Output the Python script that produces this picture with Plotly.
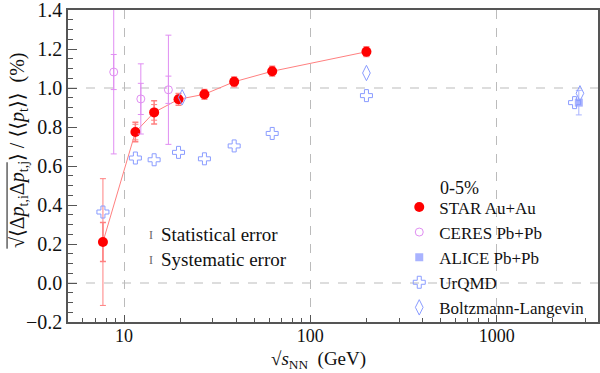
import plotly.graph_objects as go

# STAR Au+Au
star_x = [7.7, 11.5, 14.5, 19.6, 27, 39, 62.4, 200]
star_y = [0.21, 0.774, 0.875, 0.942, 0.968, 1.032, 1.086, 1.186]
star_stat = [0.325, 0.04, 0.04, 0.02, 0.02, 0.02, 0.02, 0.02]
star_sys = [0.10, 0.05, 0.06, 0.03, 0.025, 0.025, 0.025, 0.025]

# CERES Pb+Pb
ceres_x = [8.8, 12.3, 17.3]
ceres_y = [1.082, 0.944, 0.991]
ceres_stat = [0.42, 0.18, 0.28]
ceres_sys = [0.09, 0.08, 0.07]

# ALICE Pb+Pb
alice_x = [2760]
alice_y = [0.925]
alice_err = [0.063]

# UrQMD
urqmd_x = [7.7, 11.5, 14.5, 19.6, 27, 39, 62.4, 200, 2620]
urqmd_y = [0.364, 0.641, 0.632, 0.670, 0.637, 0.703, 0.767, 0.961, 0.925]

# Boltzmann-Langevin
bl_x = [20.5, 200, 2800]
bl_y = [0.952, 1.077, 0.973]

FONT = "Liberation Serif, Tinos, Times New Roman, DejaVu Serif, serif"
RED = "#ff0000"
RED_L = "#ff8080"
VIO = "#e08ef2"
BLUE = "#8a9cff"
BLUE_F = "#a9b3ff"

fig = go.Figure()

# STAR connecting line and systematic errors (no legend)
fig.add_trace(go.Scatter(x=star_x, y=star_y, mode="lines", showlegend=False,
                         line=dict(color=RED_L, width=1)))
fig.add_trace(go.Scatter(x=star_x, y=star_y, mode="markers", showlegend=False,
                         marker=dict(size=1, color="rgba(0,0,0,0)"),
                         error_y=dict(type="data", array=star_sys, color=RED_L, thickness=1.5, width=3)))
fig.add_trace(go.Scatter(x=ceres_x, y=ceres_y, mode="markers", showlegend=False,
                         marker=dict(size=1, color="rgba(0,0,0,0)"),
                         error_y=dict(type="data", array=ceres_sys, color=VIO, thickness=1, width=3)))

fig.add_trace(go.Scatter(x=star_x, y=star_y, mode="markers", name="STAR Au+Au",
                         marker=dict(symbol="circle", size=10, color=RED),
                         error_y=dict(type="data", array=star_stat, color=RED_L, thickness=1, width=3)))
fig.add_trace(go.Scatter(x=ceres_x, y=ceres_y, mode="markers", name="CERES Pb+Pb",
                         marker=dict(symbol="circle-open", size=8, color=VIO, line=dict(width=1)),
                         error_y=dict(type="data", array=ceres_stat, color=VIO, thickness=1, width=3)))
fig.add_trace(go.Scatter(x=alice_x, y=alice_y, mode="markers", name="ALICE Pb+Pb",
                         marker=dict(symbol="square", size=8, color=BLUE_F),
                         error_y=dict(type="data", array=alice_err, color=BLUE_F, thickness=1, width=3)))
fig.add_trace(go.Scatter(x=urqmd_x, y=urqmd_y, mode="markers", name="UrQMD",
                         marker=dict(symbol="cross-open", size=10, color=BLUE, line=dict(width=1))))
fig.add_trace(go.Scatter(x=bl_x, y=bl_y, mode="markers", name="Boltzmann-Langevin",
                         marker=dict(symbol="diamond-tall-open", size=11, color=BLUE, line=dict(width=1))))

# dashed reference grid lines at 0 and 1
for yv in (0.0, 1.0):
    fig.add_shape(type="line", xref="paper", yref="y", x0=0, x1=1, y0=yv, y1=yv,
                  line=dict(color="#bbbbbb", width=1, dash="dash"), layer="below")

TXT = "#111"
fig.add_annotation(xref="paper", yref="paper", x=0.6985, y=0.4295, xanchor="left", yanchor="middle",
                   text="0-5%", showarrow=False, font=dict(family=FONT, size=18, color=TXT))
fig.add_annotation(xref="paper", yref="paper", x=0.1718, y=0.279, xanchor="left", yanchor="middle",
                   text="Statistical error", showarrow=False, font=dict(family=FONT, size=19, color=TXT))
fig.add_annotation(xref="paper", yref="paper", x=0.1718, y=0.199, xanchor="left", yanchor="middle",
                   text="Systematic error", showarrow=False, font=dict(family=FONT, size=19, color=TXT))
fig.add_annotation(xref="paper", yref="paper", x=0.156, y=0.279, xanchor="center", yanchor="middle",
                   text="I", showarrow=False, font=dict(family=FONT, size=12, color="#666"))
fig.add_annotation(xref="paper", yref="paper", x=0.156, y=0.199, xanchor="center", yanchor="middle",
                   text="I", showarrow=False, font=dict(family=FONT, size=12, color="#666"))

# axis titles
fig.add_annotation(xref="paper", yref="paper", x=0.472, y=-0.122, xanchor="center", yanchor="middle",
                   text="√<i>s</i><sub>NN</sub>  (GeV)", showarrow=False,
                   font=dict(family=FONT, size=19, color=TXT))
fig.add_annotation(xref="paper", yref="paper", x=-0.0944, y=0.551, xanchor="center", yanchor="middle",
                   textangle=-90, showarrow=False,
                   text="√⟨Δ<i>p</i><sub>t,i</sub>Δ<i>p</i><sub>t,j</sub>⟩ / ⟨⟨<i>p</i><sub>t</sub>⟩⟩  (%)",
                   font=dict(family=FONT, size=20, color=TXT))
# vinculum of the square root in the y title
fig.add_shape(type="line", xref="paper", yref="paper", x0=-0.115, x1=-0.115, y0=0.235, y1=0.512,
              line=dict(color=TXT, width=1))

fig.update_layout(
    width=600, height=373,
    margin=dict(l=68, r=2, t=10, b=51),
    paper_bgcolor="white", plot_bgcolor="white",
    font=dict(family=FONT, size=18, color=TXT),
    legend=dict(x=0.625, y=0.425, xanchor="left", yanchor="top", bgcolor="rgba(0,0,0,0)",
                font=dict(family=FONT, size=17), tracegroupgap=0, itemsizing="trace"),
    xaxis=dict(type="log", range=[0.699, 3.544], dtick=1, automargin=False,
               showgrid=True, gridcolor="#bbbbbb", griddash="dash", gridwidth=1,
               showline=True, linecolor="#555", linewidth=1.5, mirror=True,
               ticks="inside", ticklen=7, tickcolor="#555",
               minor=dict(dtick="D1", ticks="inside", ticklen=4, tickcolor="#555", showgrid=False),
               tickfont=dict(family=FONT, size=18), ticklabeloverflow="allow",
               ticklabelstandoff=-3,
               zeroline=False),
    yaxis=dict(range=[-0.2, 1.4001], dtick=0.2, tick0=0, tickformat=".1f", automargin=False,
               showgrid=False,
               showline=True, linecolor="#555", linewidth=1.5, mirror=True,
               ticks="inside", ticklen=9, tickcolor="#555",
               minor=dict(dtick=0.05, ticks="inside", ticklen=5, tickcolor="#555", showgrid=False),
               tickfont=dict(family=FONT, size=20), ticklabeloverflow="allow",
               zeroline=False),
)

# remove the default 8 px page margin so the figure fills the window exactly
fig.write_html("out.html", config={"displayModeBar": False},
               post_script="document.body.style.margin='0px';")
